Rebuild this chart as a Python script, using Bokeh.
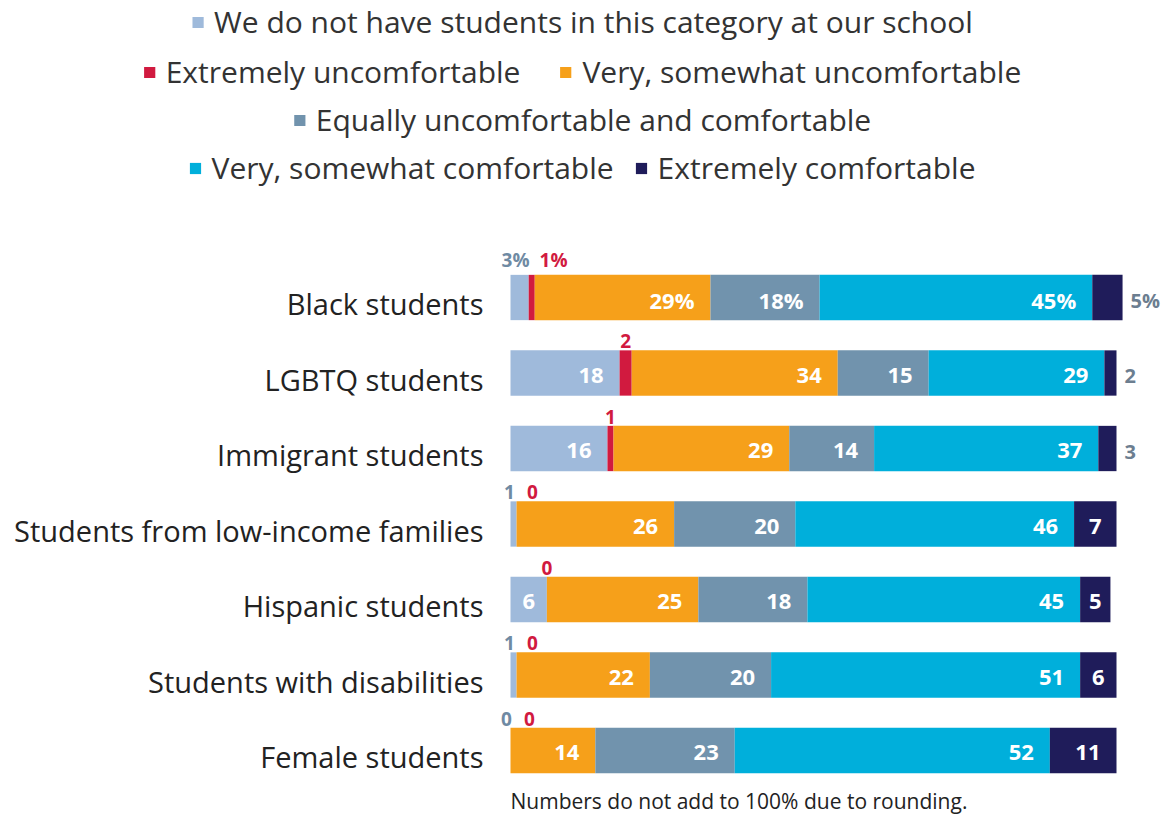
from bokeh.plotting import figure
from bokeh.models import ColumnDataSource, Range1d, Legend, LegendItem
from bokeh.core.properties import value
from bokeh.embed import file_html
from bokeh.resources import INLINE

categories = ["Black students", "LGBTQ students", "Immigrant students",
              "Students from low-income families", "Hispanic students",
              "Students with disabilities", "Female students"]
no_students = [3, 18, 16, 1, 6, 1, 0]
extremely_unc = [1, 2, 1, 0, 0, 0, 0]
very_unc = [29, 34, 29, 26, 25, 22, 14]
equally = [18, 15, 14, 20, 18, 20, 23]
very_com = [45, 29, 37, 46, 45, 51, 52]
extremely_com = [5, 2, 3, 7, 5, 6, 11]

series_names = ["We do not have students in this category at our school",
                "Extremely uncomfortable", "Very, somewhat uncomfortable",
                "Equally uncomfortable and comfortable",
                "Very, somewhat comfortable", "Extremely comfortable"]
keys = ["no", "exu", "vu", "eq", "vc", "exc"]
colors = ["#9fbadb", "#d11a3f", "#f6a01a", "#7193ad", "#00afdb", "#1f1c5a"]
footnote = "Numbers do not add to 100% due to rounding."

W, H = 1163, 817
PX = 6.06        # px per percentage point
X0 = 510         # pixel where bars start
ROW = 75.5       # px per category row
Y0 = 297         # pixel centre of first row

series = [no_students, extremely_unc, very_unc, equally, very_com, extremely_com]
ypos = list(range(len(categories)))

p = figure(width=W, height=H, output_backend="svg", toolbar_location=None,
           x_range=Range1d(-X0 / PX, (W - X0) / PX),
           y_range=Range1d(len(categories) - 1 + (H - (Y0 + ROW * (len(categories) - 1))) / ROW, -Y0 / ROW),
           min_border=0)
p.axis.visible = False
p.grid.visible = False
p.outline_line_color = None

data = dict(y=ypos)
for k, s in zip(keys, series):
    data[k] = s
src = ColumnDataSource(data)
rs = p.hbar_stack(keys, y="y", height=0.6, color=colors, line_color=None, source=src)

# category labels
p.text(x=[0] * len(categories), y=ypos, text=categories, x_offset=-27, y_offset=6,
       text_align="right", text_baseline="middle", text_font=value("Open Sans"),
       text_font_size="29px", text_color="#222222")

# value labels
in_r = dict(x=[], y=[], t=[])
in_c = dict(x=[], y=[], t=[])
ab_g = dict(x=[], y=[], t=[])
ab_r = dict(x=[], y=[], t=[])
out_r = dict(x=[], y=[], t=[])


def tw(t):
    return sum(15 if ch == "%" else 11 for ch in t)


for i in range(len(categories)):
    suffix = "%" if i == 0 else ""
    start = 0
    gray_right_px = None
    for j, s in enumerate(series):
        v = s[i]
        end = start + v
        t = f"{v}{suffix}"
        w = v * PX
        fits = tw(t) + 8 <= w
        if j == 0 and not fits:
            c = start + v / 2
            ab_g["x"].append(c); ab_g["y"].append(i - 0.3); ab_g["t"].append(t)
            gray_right_px = tw(t) / 2
        elif j == 1 and not fits:
            if gray_right_px is not None:
                ab_r["x"].append(no_students[i] / 2 + (gray_right_px + 8 + tw(t) / 2) / PX)
            else:
                ab_r["x"].append(start + v / 2)
            ab_r["y"].append(i - 0.3); ab_r["t"].append(t)
        elif j == 5 and not fits:
            out_r["x"].append(end + 8 / PX); out_r["y"].append(i); out_r["t"].append(t)
        elif v >= 10:
            in_r["x"].append(end - 16 / PX); in_r["y"].append(i); in_r["t"].append(t)
        elif v > 0:
            in_c["x"].append(start + v / 2); in_c["y"].append(i); in_c["t"].append(t)
        start = end

common = dict(text_font=value("Open Sans"), text_font_style="bold")
p.text(x="x", y="y", text="t", source=ColumnDataSource(in_r), text_align="right",
       text_baseline="middle", y_offset=2, text_font_size="22px", text_color="white", **common)
p.text(x="x", y="y", text="t", source=ColumnDataSource(in_c), text_align="center",
       text_baseline="middle", y_offset=2, text_font_size="22px", text_color="white", **common)
p.text(x="x", y="y", text="t", source=ColumnDataSource(ab_g), text_align="center",
       text_baseline="bottom", y_offset=-2, x_offset=-4, text_font_size="19px",
       text_color="#6f8aa3", **common)
p.text(x="x", y="y", text="t", source=ColumnDataSource(ab_r), text_align="center",
       text_baseline="bottom", y_offset=-2, text_font_size="19px", text_color="#d11a3f", **common)
p.text(x="x", y="y", text="t", source=ColumnDataSource(out_r), text_align="left",
       text_baseline="middle", y_offset=3, text_font_size="20px", text_color="#6c7e90", **common)

# footnote
p.text(x=[0], y=[len(categories) - 1 + 50 / ROW], text=[footnote], text_align="left",
       text_baseline="middle", text_font=value("Open Sans"), text_font_size="21px",
       text_color="#222222")

# legends (four centred rows)
rows = [[0], [1, 2], [3], [4, 5]]
margins = [1, 51, 99, 147]
spacings = [20, 38, 20, 20]
for row, m, sp in zip(rows, margins, spacings):
    leg = Legend(items=[LegendItem(label=series_names[j], renderers=[rs[j]]) for j in row],
                 location="top_center", orientation="horizontal", margin=m, padding=0,
                 spacing=sp, glyph_width=14, glyph_height=14, label_standoff=10,
                 label_text_font="Open Sans", label_text_font_size="30px",
                 label_text_color="#333333", border_line_color=None,
                 background_fill_alpha=0)
    p.add_layout(leg)

open("out.html", "w").write(file_html(p, INLINE))
